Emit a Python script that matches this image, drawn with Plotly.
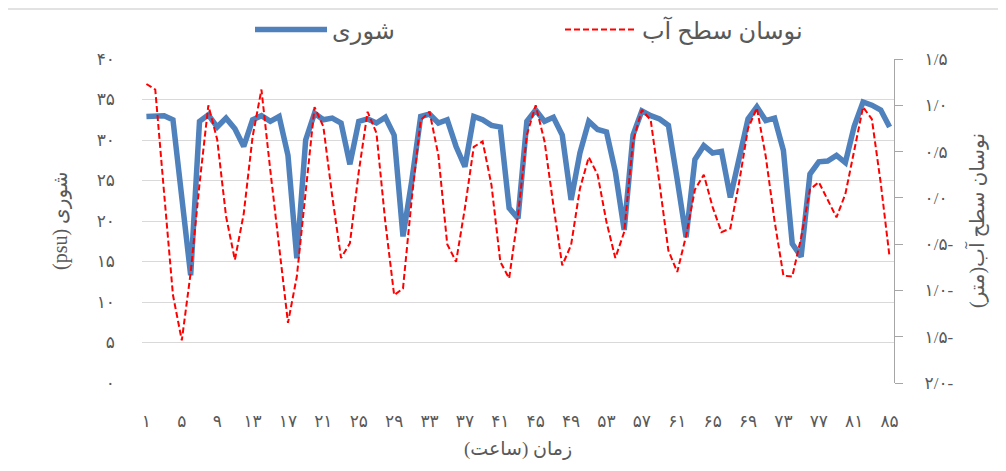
import plotly.graph_objects as go

# ---------------- data ----------------
hours = list(range(1, 86))

salinity = [
    32.9, 32.9, 33.0, 32.5, 23.0, 13.3, 32.3, 33.1, 31.6, 32.7,
    31.4, 29.2, 32.5, 33.0, 32.3, 32.9, 28.1, 15.4, 30.0, 33.3,
    32.5, 32.7, 32.1, 27.0, 32.3, 32.6, 32.1, 32.8, 30.6, 18.1,
    25.0, 32.9, 33.2, 32.1, 32.5, 29.2, 26.7, 32.9, 32.5, 31.8,
    31.6, 21.6, 20.3, 32.3, 33.7, 32.3, 32.8, 30.6, 22.6, 28.4,
    32.3, 31.3, 31.0, 26.1, 18.9, 30.6, 33.6, 33.0, 32.6, 31.8,
    25.1, 18.0, 27.6, 29.3, 28.4, 28.6, 22.9, 28.1, 32.6, 34.1,
    32.4, 32.7, 28.7, 17.2, 15.6, 25.8, 27.3, 27.4, 28.1, 27.2,
    31.7, 34.7, 34.3, 33.7, 31.6,
]

water_level = [
    1.23, 1.17, 0.05, -1.05, -1.54, -0.81, 0.15, 1.00, 0.63, -0.20,
    -0.67, -0.17, 0.66, 1.17, 0.30, -0.52, -1.35, -0.85, 0.10, 0.98,
    0.77, 0.02, -0.65, -0.49, 0.28, 0.93, 0.70, -0.26, -1.05, -0.98,
    0.00, 0.84, 0.93, 0.46, -0.50, -0.69, -0.11, 0.55, 0.61, 0.14,
    -0.69, -0.87, -0.19, 0.68, 1.00, 0.61, -0.08, -0.73, -0.51, 0.10,
    0.44, 0.25, -0.26, -0.65, -0.37, 0.61, 0.95, 0.84, 0.15, -0.57,
    -0.80, -0.41, 0.09, 0.25, -0.10, -0.37, -0.33, 0.17, 0.75, 0.97,
    0.45, -0.25, -0.84, -0.85, -0.43, 0.09, 0.17, -0.02, -0.21, 0.04,
    0.50, 0.98, 0.85, 0.16, -0.64,
]

x_tick_vals = [1, 5, 9, 13, 17, 21, 25, 29, 33, 37, 41, 45, 49, 53, 57, 61, 65, 69, 73, 77, 81, 85]
x_tick_text = ["۱", "۵", "۹", "۱۳", "۱۷", "۲۱", "۲۵", "۲۹", "۳۳", "۳۷", "۴۱",
               "۴۵", "۴۹", "۵۳", "۵۷", "۶۱", "۶۵", "۶۹", "۷۳", "۷۷", "۸۱", "۸۵"]

left_tick_vals = [0, 5, 10, 15, 20, 25, 30, 35, 40]
left_tick_text = ["۰", "۵", "۱۰", "۱۵", "۲۰", "۲۵", "۳۰", "۳۵", "۴۰"]

right_tick_vals = [-2.0, -1.5, -1.0, -0.5, 0.0, 0.5, 1.0, 1.5]
right_tick_text = ["۲/۰-", "۱/۵-", "۱/۰-", "۰/۵-", "۰/۰", "۰/۵", "۱/۰", "۱/۵"]

name_salinity = "شوری"
name_level = "نوسان سطح آب"
title_x = "زمان (ساعت)\u200f"
title_left = "(psu) شوری"
title_right = "نوسان سطح آب(متر)\u200f"

# ---------------- figure ----------------
FONT = "Liberation Serif, DejaVu Sans, sans-serif"
TXT = "#595959"
OFF = 8  # page offset of the figure inside the browser page

fig = go.Figure()
fig.add_trace(go.Scatter(
    x=hours, y=salinity, mode="lines", name=name_salinity,
    line=dict(color="#4f81bd", width=5.5), legend="legend", showlegend=True,
))
fig.add_trace(go.Scatter(
    x=hours, y=water_level, mode="lines", name=name_level, yaxis="y2",
    line=dict(color="#ff0000", width=2, dash="6px,3px"), legend="legend2", showlegend=True,
))

PW, PH = 752, 324
L, T = 142 - OFF, 59 - OFF
W, H = 1006, 471


def px(xp):
    return (xp - OFF - L) / PW


def py(yp):
    return (T + PH - (yp - OFF)) / PH


fig.update_layout(
    width=W, height=H, showlegend=True,
    margin=dict(l=L, r=W - L - PW, t=T, b=H - T - PH, autoexpand=False),
    paper_bgcolor="white", plot_bgcolor="white",
    font=dict(family=FONT, color=TXT, size=17),
    xaxis=dict(
        range=[0.5, 85.5], tickmode="array", tickvals=x_tick_vals, ticktext=x_tick_text,
        showgrid=False, zeroline=False, showline=False, ticks="",
        ticklabelstandoff=26, tickfont=dict(size=17, color=TXT),
    ),
    yaxis=dict(
        range=[0, 40], tickmode="array", tickvals=left_tick_vals, ticktext=left_tick_text,
        showgrid=True, gridcolor="#d9d9d9", gridwidth=1.3, zeroline=False, showline=False,
        ticks="", ticklabelstandoff=26, tickfont=dict(size=17, color=TXT),
    ),
    yaxis2=dict(
        range=[-2.0, 1.5], tickmode="array", tickvals=right_tick_vals, ticktext=right_tick_text,
        overlaying="y", side="right", showgrid=False, zeroline=False,
        showline=True, linecolor="#a6a6a6", linewidth=1.3,
        ticks="outside", ticklen=8, tickcolor="#a6a6a6", tickwidth=1.3,
        ticklabelstandoff=18, tickfont=dict(size=17, color=TXT),
    ),
    legend=dict(
        orientation="h", x=px(250), y=py(30), xanchor="left", yanchor="middle",
        itemwidth=72, font=dict(size=24, color=TXT), bgcolor="rgba(0,0,0,0)",
    ),
    legend2=dict(
        orientation="h", x=px(560), y=py(30), xanchor="left", yanchor="middle",
        itemwidth=72, font=dict(size=24, color=TXT), bgcolor="rgba(0,0,0,0)",
    ),
    shapes=[dict(
        type="rect", xref="paper", yref="paper",
        x0=px(5), x1=px(1030), y0=py(495), y1=py(9),
        line=dict(color="#d9d9d9", width=1.5), layer="below",
    )],
    annotations=[
        dict(text=title_x, xref="paper", yref="paper", x=px(518), y=py(449),
             xanchor="center", yanchor="middle", showarrow=False,
             font=dict(size=19, color=TXT)),
        dict(text=title_left, xref="paper", yref="paper", x=px(60), y=py(221),
             xanchor="center", yanchor="middle", showarrow=False, textangle=-90,
             font=dict(size=20, color=TXT)),
        dict(text=title_right, xref="paper", yref="paper", x=px(976), y=py(221),
             xanchor="center", yanchor="middle", showarrow=False, textangle=-90,
             font=dict(size=20, color=TXT)),
    ],
)

fig.write_html("out.html")
